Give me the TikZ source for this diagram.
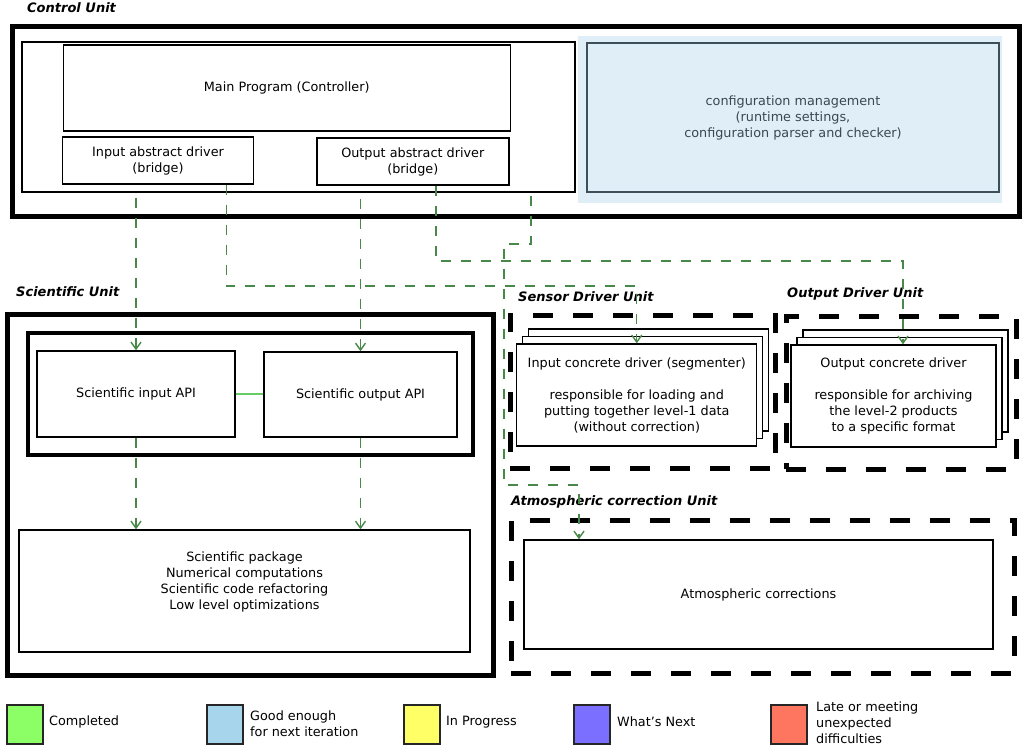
\documentclass[tikz,border=0pt]{standalone}
\usepackage{fontspec}
\setmainfont{DejaVu Sans}
\usepackage{xcolor}
\usepackage{tikz}
\usetikzlibrary{arrows.meta,positioning,shadows}

\definecolor{flowgreen}{RGB}{72,136,72}
\definecolor{linkgreen}{RGB}{102,204,102}
\definecolor{confbg}{RGB}{223,238,247}
\definecolor{confline}{RGB}{61,79,90}
\definecolor{conftext}{RGB}{58,72,82}
\definecolor{keygreen}{RGB}{140,255,102}
\definecolor{keyblue}{RGB}{166,213,236}
\definecolor{keyyellow}{RGB}{255,255,102}
\definecolor{keypurple}{RGB}{122,111,255}
\definecolor{keyred}{RGB}{255,118,96}
\newcommand{\boxfont}{\fontsize{12.8}{16}\selectfont}
\newcommand{\unitfont}{\fontsize{13}{16}\selectfont\bfseries\itshape}

\begin{document}
\begin{tikzpicture}[x=1pt,y=-1pt,>={Straight Barb[length=7pt,width=10pt]},font=\boxfont]
        \tikzset{block/.style={draw, rectangle, line width=1.4pt, fill=white, align=center, inner sep=0pt},
        frame/.style={draw, rectangle, line width=5pt, inner sep=0pt},
        dframe/.style={draw, rectangle, line width=5pt, dash pattern=on 20pt off 20pt, inner sep=0pt},
        unit/.style={anchor=west, font=\unitfont, inner sep=0pt},
        stack/.style={block, double copy shadow={shadow xshift=6pt, shadow yshift=7.5pt}},
        flow/.style={draw=flowgreen, line width=1.4pt, dash pattern=on 10pt off 10pt, ->},
        link/.style={draw=linkgreen, line width=1.4pt},
        swatch/.style={draw=black!85, line width=2pt, minimum width=36pt, minimum height=39pt, inner sep=0pt},
        key/.style={anchor=west, align=left, inner sep=0pt}
        }
        \useasboundingbox (0,0) rectangle (1023,748);

%% Control unit
        \node [unit] (ctrllabel) at (27,8) {Control Unit};
        \node [frame, minimum width=1007pt, minimum height=190pt] (ctrl) at (516,121) {};
        \node [block, minimum width=553pt, minimum height=150pt] (ctrlpanel) at (298.5,117) {};
        \node [block, minimum width=447pt, minimum height=86pt] (main) at (286.75,88) {Main Program (Controller)};
        \node [block, minimum width=191pt, minimum height=47pt] (inabs) at (158,160.5) {Input abstract driver\\(bridge)};
        \node [block, minimum width=192pt, minimum height=47pt] (outabs) at (412.8,161.5) {Output abstract driver\\(bridge)};
        \node [fill=confbg, minimum width=424pt, minimum height=167pt, inner sep=0pt] (confbg) at (790,119.5) {};
        \node [block, draw=confline, fill=confbg, text=conftext, minimum width=412pt, minimum height=149pt] (conf) at (793,117.5) {configuration management\\(runtime settings,\\configuration parser and checker)};

%% Scientific unit
        \node [unit] (scilabel) at (16,292) {Scientific Unit};
        \node [frame, minimum width=486pt, minimum height=361pt] (sci) at (250,494.5) {};
        \node [frame, line width=4pt, minimum width=445pt, minimum height=122pt] (apis) at (250.5,394) {};
        \node [block, minimum width=198pt, minimum height=86pt] (sin) at (136,394) {Scientific input API};
        \node [block, minimum width=193pt, minimum height=85pt] (sout) at (360.5,394.5) {Scientific output API};
        \node [block, minimum width=451pt, minimum height=122pt] (pkg) at (244.5,591) {};
        \node [align=center] (pkgtext) at ([yshift=9pt]pkg.center) {Scientific package\\Numerical computations\\Scientific code refactoring\\Low level optimizations};

%% Sensor driver unit
        \node [unit] (sdulabel) at (518,297) {Sensor Driver Unit};
        \node [dframe, minimum width=265pt, minimum height=153pt] (sdu) at (642.5,391.5) {};
        \node [stack, minimum width=240pt, minimum height=102pt] (inconc) at (636.75,395) {Input concrete driver (segmenter)\\[16pt]responsible for loading and\\putting together level-1 data\\(without correction)};

%% Output driver unit
        \node [unit] (odulabel) at (787,294) {Output Driver Unit};
        \node [dframe, minimum width=230pt, minimum height=153pt] (odu) at (901,392.5) {};
        \node [stack, minimum width=205pt, minimum height=102pt] (outconc) at (893.5,396) {Output concrete driver\\[16pt]responsible for archiving\\the level-2 products\\to a specific format};

%% Atmospheric correction unit
        \node [unit] (atmolabel) at (511,502) {Atmospheric correction Unit};
        \node [dframe, minimum width=503pt, minimum height=153pt] (atmo) at (762.5,596.5) {};
        \node [block, minimum width=469pt, minimum height=109pt] (atmocorr) at (758.5,594.5) {Atmospheric corrections};

%% legend
        \node [swatch, fill=keygreen] (kdone) at (25,724.5) {};
        \node [key] (kdonetext) at (49,722) {Completed};
        \node [swatch, fill=keyblue] (kgood) at (225,724.5) {};
        \node [key] (kgoodtext) at (250,724) {Good enough\\for next iteration};
        \node [swatch, fill=keyyellow] (kprog) at (422,724.5) {};
        \node [key] (kprogtext) at (446,722) {In Progress};
        \node [swatch, fill=keypurple] (knext) at (592,724.5) {};
        \node [key] (knexttext) at (617,722) {What's Next};
        \node [swatch, fill=keyred] (klate) at (789,724.5) {};
        \node [key] (klatetext) at (816,723) {Late or meeting\\unexpected\\difficulties};

%% turning points
        \coordinate (inturn) at (226.5,286);
        \coordinate (outturn) at (436,261);
        \coordinate (outdrop) at (903,261);
        \coordinate (attop) at (531,244);
        \coordinate (atleft) at (504,244);
        \coordinate (atdown) at (504,485);
        \coordinate (atjog) at (579,485);

%% paths
        \path[flow] ([yshift=-5pt]ctrlpanel.south -| sin.north) -- (sin.north);
        \path[flow] (inabs.south -| inturn) -- (inturn) -| (inconc.north);
        \path[flow] ([yshift=-6pt]ctrlpanel.south -| sout.north) -- (sout.north);
        \path[flow] (outabs.south -| outturn) -- (outturn) -- (outdrop) -- (outdrop |- outconc.north);
        \path[flow] ([yshift=-3pt]ctrlpanel.south -| attop) -- (attop) -- (atleft) -- (atdown) -- (atjog) -- (atjog |- atmocorr.north);
        \path[flow] (sin.south) -- (sin.south |- pkg.north);
        \path[flow] (sout.south) -- (sout.south |- pkg.north);
        \path[link] (sin.east) -- (sin.east -| sout.west);
    \end{tikzpicture}
\end{document}
